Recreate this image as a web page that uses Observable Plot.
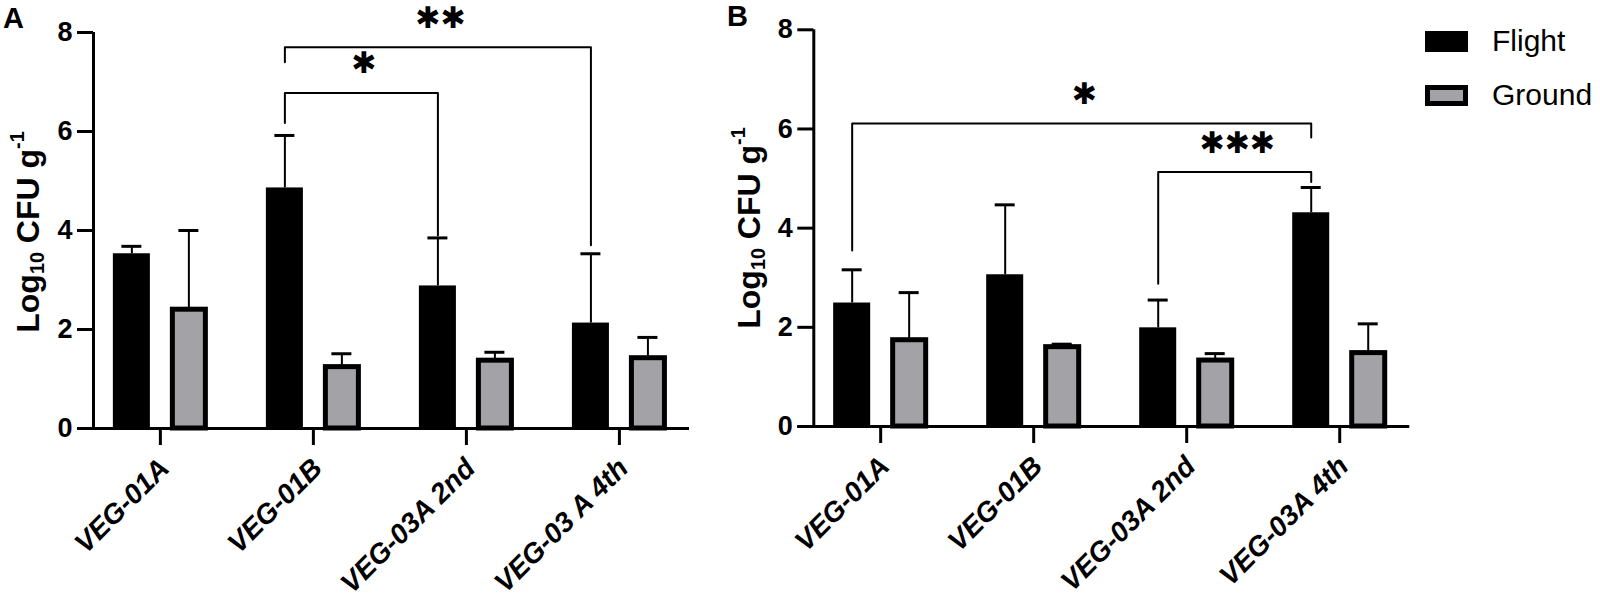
<!DOCTYPE html>
<html><head><meta charset="utf-8">
<script src="https://cdn.jsdelivr.net/npm/d3@7"></script>
<script src="https://cdn.jsdelivr.net/npm/@observablehq/plot@0.6"></script>
<style>
body{margin:0;background:#fff;}
#wrap{position:relative;width:1600px;height:601px;overflow:hidden;font-family:"Liberation Sans",Arial,sans-serif;color:#000;}
.panel{position:absolute;top:0;}
.ylab{position:absolute;font-weight:bold;font-size:32px;white-space:nowrap;transform:translate(-50%,-50%) rotate(-90deg);line-height:1;}
.ylab sub{font-size:0.62em;vertical-align:-0.25em;}
.ylab sup{font-size:0.62em;vertical-align:0.75em;}
.tag{position:absolute;font-weight:bold;font-size:29px;line-height:29px;}
.sw{position:absolute;width:43px;height:21px;box-sizing:border-box;}
.lt{position:absolute;font-size:30px;line-height:30px;white-space:nowrap;}
</style></head>
<body><div id="wrap"></div>
<script>
const seriesNames = ["Flight", "Ground"];
const yTicks = [0, 2, 4, 6, 8];

const categoriesA = ["VEG-01A", "VEG-01B", "VEG-03A 2nd", "VEG-03 A 4th"];
const flightMeanA = [3.53, 4.86, 2.88, 2.13];
const flightErrA  = [0.15, 1.06, 0.97, 1.40];
const groundMeanA = [2.40, 1.24, 1.37, 1.42];
const groundErrA  = [1.60, 0.27, 0.17, 0.42];

const categoriesB = ["VEG-01A", "VEG-01B", "VEG-03A 2nd", "VEG-03A 4th"];
const flightMeanB = [2.49, 3.06, 1.99, 4.31];
const flightErrB  = [0.67, 1.41, 0.56, 0.51];
const groundMeanB = [1.74, 1.60, 1.33, 1.48];
const groundErrB  = [0.96, 0.06, 0.14, 0.59];

// significance brackets (category indices, heights in data units)
const bracketsA = [
  {from: 1, to: 2, y: 6.78, yFrom: 6.17, yTo: 3.90, label: "✱"},
  {from: 1, to: 3, y: 7.70, yFrom: 7.40, yTo: 3.70, label: "✱✱"}
];
const bracketsB = [
  {from: 0, to: 3, y: 6.11, yFrom: 3.55, yTo: 5.83, label: "✱"},
  {from: 2, to: 3, y: 5.13, yFrom: 2.88, yTo: 4.93, label: "✱✱✱"}
];

const FLIGHT_DX = -28.5, GROUND_DX = 28.5;
const GRAY = "#a3a3a7";
const FONT = "'Liberation Sans', Arial, sans-serif";

function rows(cats, fm, fe, gm, ge) {
  return cats.flatMap((c, i) => [
    {i, cat: c, series: seriesNames[0], mean: fm[i], err: fe[i]},
    {i, cat: c, series: seriesNames[1], mean: gm[i], err: ge[i]}
  ]);
}

function panel(cfg) {
  const data = rows(cfg.cats, cfg.fm, cfg.fe, cfg.gm, cfg.ge);
  const flight = data.filter(d => d.series === seriesNames[0]);
  const ground = data.filter(d => d.series === seriesNames[1]);
  const xDomain = [-0.437, 3.458];
  const idx = cfg.cats.map((c, i) => i);
  const bl = cfg.brackets.flatMap((b, k) => [
    {k, x: b.from, y: b.yFrom}, {k, x: b.from, y: b.y},
    {k, x: b.to, y: b.y}, {k, x: b.to, y: b.yTo}
  ]);
  const p = Plot.plot({
    width: cfg.width, height: 601,
    marginLeft: cfg.ml, marginRight: cfg.mr, marginTop: cfg.mt, marginBottom: cfg.mb,
    x: {domain: xDomain},
    y: {domain: [0, 8]},
    style: {fontFamily: FONT, fontWeight: "bold", color: "#000", background: "transparent", overflow: "visible"},
    marks: [
      Plot.rect(flight, {x1: d => d.i - 0.5, x2: d => d.i + 0.5, y1: 0, y2: "mean", fill: "#000", insetLeft: 29.5, insetRight: 86.5}),
      Plot.rect(ground, {x1: d => d.i - 0.5, x2: d => d.i + 0.5, y1: 0, y2: "mean", fill: GRAY, stroke: "#000", strokeWidth: 5, insetLeft: 89, insetRight: 31}),
      Plot.ruleX(flight, {x: "i", y1: "mean", y2: d => d.mean + d.err, dx: FLIGHT_DX, strokeWidth: 2}),
      Plot.ruleY(flight, {x1: "i", x2: "i", y: d => d.mean + d.err, dx: FLIGHT_DX, insetLeft: -10, insetRight: -10, strokeWidth: 3}),
      Plot.ruleX(ground, {x: "i", y1: "mean", y2: d => d.mean + d.err, dx: GROUND_DX, strokeWidth: 2}),
      Plot.ruleY(ground, {x1: "i", x2: "i", y: d => d.mean + d.err, dx: GROUND_DX, insetLeft: -10, insetRight: -10, strokeWidth: 3}),
      Plot.line(bl, {x: "x", y: "y", z: "k", dx: FLIGHT_DX, stroke: "#000", strokeWidth: 2}),
      Plot.text(cfg.brackets, {x: d => (d.from + d.to) / 2, y: "y", text: "label", dx: FLIGHT_DX + 2.5, dy: -29, fontSize: 30, fontFamily: "DejaVu Sans", fontWeight: "bold", ariaLabel: "stars"}),
      Plot.ruleX([xDomain[0]], {y1: 0, y2: 8, strokeWidth: 3}),
      Plot.ruleY([0], {x1: xDomain[0], x2: xDomain[1], insetLeft: -16, strokeWidth: 3}),
      Plot.axisY({ticks: yTicks, tickSize: 16, tickPadding: 5, strokeWidth: 3, fontSize: 27, label: null}),
      Plot.axisX({ticks: idx, tickFormat: () => "", tickSize: 17, strokeWidth: 3, label: null}),
      Plot.axisX({ticks: idx, tickFormat: i => cfg.cats[i], tickSize: 0, tickPadding: 35, tickRotate: -45, dx: 4, fontSize: 28, fontStyle: "italic", label: null})
    ]
  });
  p.querySelectorAll('g[aria-label="stars"] text').forEach(t => t.style.letterSpacing = "5px");
  p.classList.add("panel");
  p.style.left = cfg.left + "px";
  return p;
}

const wrap = document.getElementById("wrap");
wrap.appendChild(panel({cats: categoriesA, fm: flightMeanA, fe: flightErrA, gm: groundMeanA, ge: groundErrA,
  brackets: bracketsA, left: 0, width: 720, ml: 93, mr: 31, mt: 32, mb: 173}));
wrap.appendChild(panel({cats: categoriesB, fm: flightMeanB, fe: flightErrB, gm: groundMeanB, ge: groundErrB,
  brackets: bracketsB, left: 720, width: 880, ml: 93.3, mr: 190.7, mt: 29.3, mb: 175}));

function addDiv(cls, html, css) {
  const d = document.createElement("div");
  d.className = cls; d.innerHTML = html; Object.assign(d.style, css);
  wrap.appendChild(d); return d;
}
const ytitle = "Log<sub>10</sub> CFU g<sup>-1</sup>";
addDiv("ylab", ytitle, {left: "28px", top: "232px"});
addDiv("ylab", ytitle, {left: "749px", top: "228px"});
addDiv("tag", "A", {left: "3px", top: "4px"});
addDiv("tag", "B", {left: "727px", top: "2px"});
addDiv("sw", "", {left: "1425px", top: "31px", background: "#000"});
addDiv("sw", "", {left: "1425px", top: "85px", background: GRAY, border: "5px solid #000"});
addDiv("lt", seriesNames[0], {left: "1492px", top: "26px"});
addDiv("lt", seriesNames[1], {left: "1492px", top: "80px"});
</script>
</body></html>
